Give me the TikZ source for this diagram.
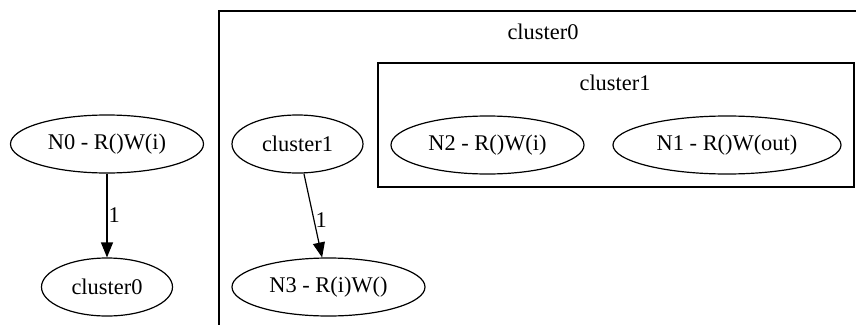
\documentclass[tikz,border=0pt]{standalone}
\usepackage{fontspec}
\setmainfont{Liberation Serif}
\usetikzlibrary{shapes.geometric, arrows.meta}
\definecolor{LineGray}{HTML}{000000}

\tikzset{
  opnode/.style={draw=LineGray, ellipse, line width=1.2pt, inner sep=0pt,
                 minimum height=58pt, font=\fontsize{22.4}{26}\selectfont},
  clusterbox/.style={draw=LineGray, line width=1.4pt},
  flow/.style={line width=1.2pt, -{Triangle[length=15pt, width=12pt]}},
  weight/.style={right, inner sep=1pt, font=\fontsize{22.4}{26}\selectfont}
}

\begin{document}
\begin{tikzpicture}[x=1pt, y=-1pt]
  \clip (0,0) rectangle (856,324);
  % outer and inner clusters
  \draw[clusterbox] (219,11) rectangle (880,360);
  \draw[clusterbox] (378,63) rectangle (854,187);
  \node[font=\fontsize{22.4}{26}\selectfont] (lblzero) at (543,32) {cluster0};
  \node[font=\fontsize{22.4}{26}\selectfont] (lblone) at (615,83) {cluster1};

  % operations
  \node[opnode, minimum width=193pt] (n0) at (107,144) {N0 - R()W(i)};
  \node[opnode, minimum width=131pt] (czero) at (107,287) {cluster0};
  \node[opnode, minimum width=131pt] (cone) at (297.5,144) {cluster1};
  \node[opnode, minimum width=193pt] (n3) at (328.5,287) {N3 - R(i)W()};
  \node[opnode, minimum width=193pt] (n2) at (487.5,145) {N2 - R()W(i)};
  \node[opnode, minimum width=228pt] (n1) at (727,145) {N1 - R()W(out)};

  \draw[flow] (n0) -- node[weight] {1} (czero);
  \draw[flow] (cone) -- node[weight, pos=0.55] {1} (n3);
\end{tikzpicture}
\end{document}
